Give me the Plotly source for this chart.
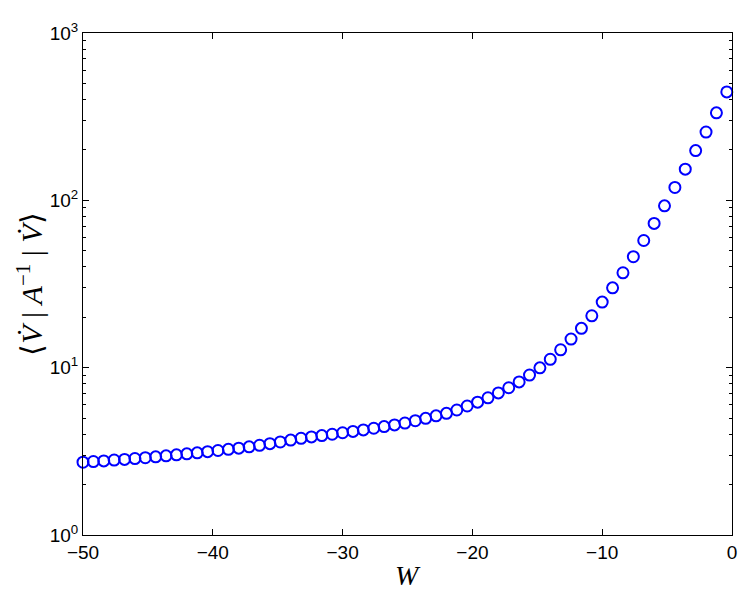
import plotly.graph_objects as go

W = [-50.0, -49.2, -48.4, -47.6, -46.8, -46.0, -45.2, -44.4, -43.6, -42.8,
     -42.0, -41.2, -40.4, -39.6, -38.8, -38.0, -37.2, -36.4, -35.6, -34.8,
     -34.0, -33.2, -32.4, -31.6, -30.8, -30.0, -29.2, -28.4, -27.6, -26.8,
     -26.0, -25.2, -24.4, -23.6, -22.8, -22.0, -21.2, -20.4, -19.6, -18.8,
     -18.0, -17.2, -16.4, -15.6, -14.8, -14.0, -13.2, -12.4, -11.6, -10.8,
     -10.0, -9.2, -8.4, -7.6, -6.8, -6.0, -5.2, -4.4, -3.6, -2.8,
     -2.0, -1.2, -0.4]

V = [2.723, 2.748, 2.773, 2.805, 2.831, 2.864, 2.897, 2.931, 2.972, 3.013,
     3.055, 3.097, 3.148, 3.199, 3.251, 3.304, 3.365, 3.436, 3.516, 3.597,
     3.690, 3.784, 3.855, 3.926, 3.999, 4.083, 4.159, 4.246, 4.345, 4.446,
     4.550, 4.667, 4.819, 4.977, 5.152, 5.333, 5.585, 5.902, 6.223, 6.607,
     7.063, 7.586, 8.222, 9.036, 9.977, 11.22, 12.79, 14.83, 17.18, 20.42,
     24.66, 29.99, 36.90, 46.03, 57.54, 72.78, 92.68, 119.4, 153.5, 198.2,
     255.9, 333.4, 444.6]

x_ticks = [-50, -40, -30, -20, -10, 0]
x_tick_text = ["\u221250", "\u221240", "\u221230", "\u221220", "\u221210", "0"]
y_ticks = [1, 10, 100, 1000]
y_tick_text = ["10<sup>0</sup>", "10<sup>1</sup>", "10<sup>2</sup>", "10<sup>3</sup>"]
y_minor = [m * d for d in (1, 10, 100) for m in range(2, 10)]

fig = go.Figure()
fig.add_trace(go.Scatter(
    x=W, y=V, mode="markers", cliponaxis=False,
    marker=dict(symbol="circle-open", size=11, color="rgb(0,0,255)",
                line=dict(width=2, color="rgb(0,0,255)")),
    showlegend=False,
))

axis_font = dict(family="Liberation Sans, Arial, sans-serif", size=19, color="black")
serif = "Liberation Serif, Times New Roman, serif"

fig.update_layout(
    width=747, height=590,
    paper_bgcolor="white", plot_bgcolor="white",
    margin=dict(l=75, r=23, t=15, b=63),
    xaxis=dict(
        range=[-50, 0], tickvals=x_ticks, ticktext=x_tick_text,
        ticks="inside", ticklen=6, tickcolor="black", tickwidth=1,
        showline=True, linecolor="black", linewidth=1, mirror="allticks",
        showgrid=False, zeroline=False, tickfont=axis_font,
    ),
    yaxis=dict(
        type="log", range=[0, 3], tickvals=y_ticks, ticktext=y_tick_text,
        ticks="inside", ticklen=6, tickcolor="black", tickwidth=1,
        showline=True, linecolor="black", linewidth=1, mirror="allticks",
        showgrid=False, zeroline=False, tickfont=axis_font,
        minor=dict(tickvals=y_minor, ticks="inside", ticklen=3,
                   tickcolor="black", tickwidth=1, showgrid=False),
    ),
    annotations=[
        dict(text="<i>W</i>", x=0.5, y=-0.08, xref="paper", yref="paper",
             xanchor="center", yanchor="middle", showarrow=False,
             font=dict(family=serif, size=28, color="black")),
        dict(text="\u27e8<i>V\u0307</i> | <i>A</i><sup>\u22121</sup> | <i>V\u0307</i>\u27e9",
             x=-0.082, y=0.5, xref="paper", yref="paper", textangle=-90,
             xanchor="center", yanchor="middle", showarrow=False,
             font=dict(family=serif, size=30, color="black")),
    ],
)

fig.write_html("out.html")
